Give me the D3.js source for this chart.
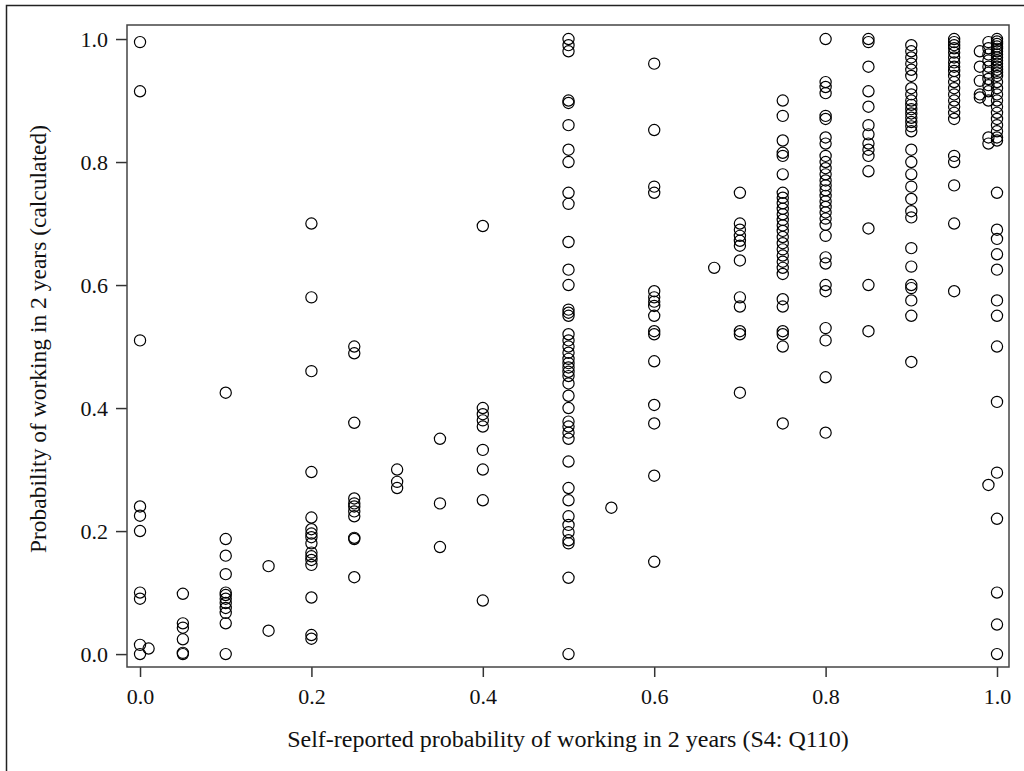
<!DOCTYPE html>
<html>
<head>
<meta charset="utf-8">
<script src="https://cdn.jsdelivr.net/npm/d3@7"></script>
<style>
    body { margin: 0; background: #ffffff; }
    svg { display: block; }
</style>
</head>
<body>
<div id="chart"></div>
<script>
/* Data - self-reported level (x) and calculated values (y) for each level */
var xLevels = [0, 0.01, 0.05, 0.1, 0.15, 0.2, 0.25, 0.3, 0.35, 0.4, 0.5, 0.55, 0.6, 0.67, 0.7, 0.75, 0.8, 0.85, 0.9, 0.95, 0.98, 0.99, 1.0];

var yColumns = [
    [0.995, 0.915, 0.51, 0.24, 0.225, 0.20, 0.10, 0.09, 0.015, 0.0],
    [0.009],
    [0.098, 0.05, 0.043, 0.024, 0.002, 0.0],
    [0.425, 0.187, 0.16, 0.13, 0.10, 0.096, 0.09, 0.083, 0.075, 0.067, 0.05, 0.0],
    [0.143, 0.038],
    [0.70, 0.58, 0.46, 0.296, 0.222, 0.203, 0.196, 0.19, 0.18, 0.165, 0.159, 0.153, 0.145, 0.092, 0.031, 0.025],
    [0.50, 0.489, 0.376, 0.253, 0.245, 0.24, 0.232, 0.224, 0.189, 0.187, 0.125],
    [0.30, 0.28, 0.27],
    [0.35, 0.245, 0.174],
    [0.696, 0.40, 0.39, 0.38, 0.37, 0.332, 0.30, 0.25, 0.087],
    [1.0, 0.99, 0.98, 0.90, 0.896, 0.86, 0.82, 0.80, 0.75, 0.732, 0.67, 0.625, 0.60, 0.56, 0.555, 0.55, 0.52, 0.51, 0.50, 0.49, 0.48, 0.473, 0.466, 0.459, 0.452, 0.44, 0.42, 0.40, 0.378, 0.37, 0.36, 0.35, 0.313, 0.27, 0.25, 0.224, 0.21, 0.198, 0.185, 0.18, 0.124, 0.0],
    [0.238],
    [0.96, 0.852, 0.76, 0.75, 0.59, 0.58, 0.573, 0.566, 0.55, 0.525, 0.52, 0.476, 0.405, 0.375, 0.29, 0.15],
    [0.628],
    [0.75, 0.70, 0.69, 0.68, 0.672, 0.664, 0.64, 0.58, 0.565, 0.525, 0.52, 0.425],
    [0.90, 0.875, 0.835, 0.815, 0.81, 0.78, 0.75, 0.742, 0.733, 0.724, 0.715, 0.706, 0.697, 0.688, 0.678, 0.668, 0.658, 0.648, 0.638, 0.628, 0.618, 0.577, 0.565, 0.525, 0.52, 0.50, 0.375],
    [1.0, 0.93, 0.922, 0.912, 0.875, 0.87, 0.84, 0.83, 0.81, 0.80, 0.79, 0.78, 0.77, 0.762, 0.754, 0.745, 0.736, 0.727, 0.718, 0.708, 0.698, 0.68, 0.645, 0.635, 0.60, 0.59, 0.53, 0.51, 0.45, 0.36],
    [1.0, 0.995, 0.955, 0.915, 0.89, 0.86, 0.845, 0.83, 0.82, 0.81, 0.785, 0.692, 0.60, 0.525],
    [0.99, 0.98, 0.97, 0.96, 0.95, 0.94, 0.92, 0.91, 0.90, 0.893, 0.886, 0.879, 0.872, 0.865, 0.858, 0.85, 0.82, 0.80, 0.78, 0.76, 0.74, 0.72, 0.71, 0.66, 0.63, 0.60, 0.595, 0.575, 0.55, 0.475],
    [1.0, 0.995, 0.99, 0.985, 0.978, 0.97, 0.962, 0.955, 0.948, 0.94, 0.93, 0.92, 0.91, 0.90, 0.89, 0.88, 0.87, 0.81, 0.80, 0.762, 0.70, 0.59],
    [0.98, 0.955, 0.932, 0.91, 0.905],
    [0.995, 0.985, 0.975, 0.965, 0.955, 0.945, 0.935, 0.925, 0.915, 0.90, 0.84, 0.83, 0.275],
    [1.0, 0.996, 0.992, 0.988, 0.984, 0.98, 0.975, 0.97, 0.965, 0.96, 0.955, 0.95, 0.945, 0.94, 0.93, 0.92, 0.91, 0.90, 0.89, 0.88, 0.87, 0.86, 0.85, 0.84, 0.835, 0.75, 0.69, 0.675, 0.65, 0.625, 0.575, 0.55, 0.50, 0.41, 0.295, 0.22, 0.10, 0.048, 0.0]
];

var xTicks = [0, 0.2, 0.4, 0.6, 0.8, 1.0];
var yTicks = [0, 0.2, 0.4, 0.6, 0.8, 1.0];
var xTitle = "Self-reported probability of working in 2 years (S4: Q110)";
var yTitle = "Probability of working in 2 years (calculated)";

(function () {

    /* Dimensions */
    var width       = 1024,
        height      = 771,
        plotLeft    = 127,
        plotRight   = 1009,
        plotTop     = 25,
        plotBottom  = 667,
        tickFont    = "22px",
        font        = "'Liberation Serif', 'Times New Roman', serif";

    // Flatten columns to points
    var points = [];
    xLevels.forEach(function (xv, i) {
        yColumns[i].forEach(function (yv) {
            points.push({ x: xv, y: yv });
        });
    });

    /* Scales - a little padding around 0 and 1, as in the original */
    var x = d3.scaleLinear().domain([-0.0152, 1.014]).range([plotLeft, plotRight]);
    var y = d3.scaleLinear().domain([-0.021, 1.0228]).range([plotBottom, plotTop]);

    var svg = d3.select("#chart").append("svg")
        .attr("width", width)
        .attr("height", height)
        .style("font-family", font);

    // Outer frame (only its top and left edges are inside the picture)
    svg.append("rect")
        .attr("x", 6.5).attr("y", 5.5)
        .attr("width", width + 20).attr("height", height + 20)
        .attr("fill", "none")
        .attr("stroke", "#222")
        .attr("stroke-width", 1.5);

    /* Axes */
    var xAxis = svg.append("g")
        .attr("transform", "translate(0," + plotBottom + ")")
        .call(d3.axisBottom(x).tickValues(xTicks).tickFormat(d3.format(".1f")).tickSize(10).tickPadding(11));

    var yAxis = svg.append("g")
        .attr("transform", "translate(" + plotLeft + ",0)")
        .call(d3.axisLeft(y).tickValues(yTicks).tickFormat(d3.format(".1f")).tickSize(11).tickPadding(8));

    [xAxis, yAxis].forEach(function (g) {
        g.select(".domain").remove();
        g.selectAll(".tick line").attr("stroke", "#333").attr("stroke-width", 1.5);
        g.selectAll(".tick text")
            .attr("fill", "#111")
            .style("font-family", font)
            .style("font-size", tickFont);
    });
    yAxis.selectAll(".tick text").attr("dy", "0.34em");

    // Plot box
    svg.append("rect")
        .attr("x", plotLeft).attr("y", plotTop)
        .attr("width", plotRight - plotLeft).attr("height", plotBottom - plotTop)
        .attr("fill", "none")
        .attr("stroke", "#444")
        .attr("stroke-width", 1.5);

    /* Points */
    svg.append("g")
        .selectAll("circle")
        .data(points)
        .enter().append("circle")
        .attr("cx", function (d) { return x(d.x); })
        .attr("cy", function (d) { return y(d.y); })
        .attr("r", 5.6)
        .attr("fill", "none")
        .attr("stroke", "#000")
        .attr("stroke-width", 1.2);

    /* Titles */
    svg.append("text")
        .attr("x", 568)
        .attr("y", 747)
        .attr("text-anchor", "middle")
        .attr("fill", "#111")
        .style("font-size", "24px")
        .text(xTitle);

    svg.append("text")
        .attr("transform", "translate(46,339) rotate(-90)")
        .attr("text-anchor", "middle")
        .attr("fill", "#111")
        .style("font-size", "23.5px")
        .text(yTitle);

})();
</script>
</body>
</html>
